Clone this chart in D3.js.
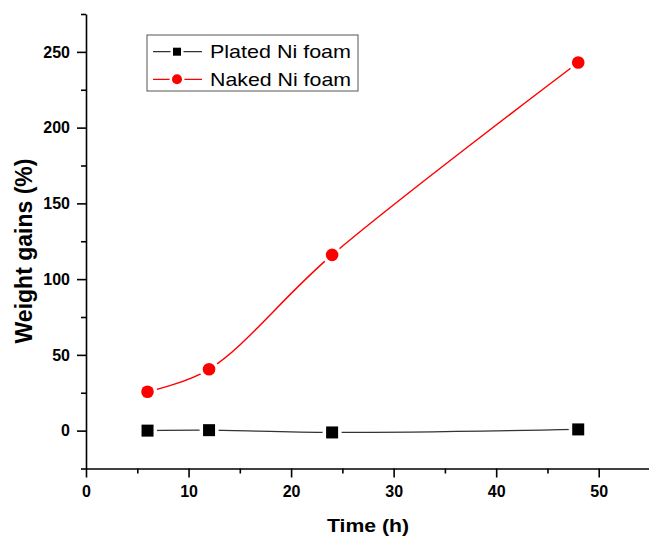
<!DOCTYPE html>
<html>
<head>
<meta charset="utf-8">
<script src="https://cdn.jsdelivr.net/npm/d3@7"></script>
<style>
  body { margin: 0; background: #fff; }
  svg { display: block; font-family: Arial, "Liberation Sans", sans-serif; }
</style>
</head>
<body>
<div id="chart"></div>
<script>
// data
var timeH = [6, 12, 24, 48];
var platedGain = [0, 0.3, -1.2, 0.8];
var nakedGain = [25.7, 40.5, 116, 243];
var seriesNames = ["Plated Ni foam", "Naked Ni foam"];
var xTicks = [0, 10, 20, 30, 40, 50];
var xMinor = [5, 15, 25, 35, 45, 55];
var yTicks = [0, 50, 100, 150, 200, 250];
var yMinor = [-25, 25, 75, 125, 175, 225, 275];

var svgWidth = 649;
var svgHeight = 538;

var svg = d3.select("#chart")
  .append("svg")
  .attr("width", svgWidth)
  .attr("height", svgHeight);

var x = d3.scaleLinear().domain([0, 55]).range([86, 650]);
var y = d3.scaleLinear().domain([-25, 275]).range([468.5, 14]);

// x axis
svg.append("g")
  .attr("transform", "translate(0," + y(-25) + ")")
  .call(d3.axisBottom(x).tickValues(xTicks).tickSize(9).tickSizeOuter(0).tickPadding(8));
svg.append("g")
  .attr("transform", "translate(0," + y(-25) + ")")
  .call(d3.axisBottom(x).tickValues(xMinor).tickSize(5).tickFormat(""))
  .select(".domain").remove();

// y axis
svg.append("g")
  .attr("transform", "translate(" + x(0) + ",0)")
  .call(d3.axisLeft(y).tickValues(yTicks).tickSize(9).tickSizeOuter(0).tickPadding(7));
svg.append("g")
  .attr("transform", "translate(" + x(0) + ",0)")
  .call(d3.axisLeft(y).tickValues(yMinor).tickSize(5).tickFormat(""))
  .select(".domain").remove();

svg.selectAll(".domain, .tick line")
  .attr("stroke", "#000")
  .attr("stroke-width", 1.6);
svg.selectAll(".tick text")
  .attr("fill", "#000")
  .style("font-size", "16px")
  .style("font-weight", "bold");

// axis titles
svg.append("text")
  .attr("x", (x(0) + x(55)) / 2)
  .attr("y", 532)
  .attr("text-anchor", "middle")
  .attr("textLength", 82)
  .attr("lengthAdjust", "spacingAndGlyphs")
  .style("font-size", "19px")
  .style("font-weight", "bold")
  .text("Time (h)");

svg.append("text")
  .attr("transform", "translate(32,251) rotate(-90)")
  .attr("text-anchor", "middle")
  .style("font-size", "23px")
  .style("font-weight", "bold")
  .text("Weight gains (%)");

// series
var plated = timeH.map(function(t, i) { return [t, platedGain[i]]; });
var naked = timeH.map(function(t, i) { return [t, nakedGain[i]]; });

var line = d3.line()
  .x(function(d) { return x(d[0]); })
  .y(function(d) { return y(d[1]); })
  .curve(d3.curveCatmullRom.alpha(0.5));

svg.append("path")
  .datum(plated)
  .attr("fill", "none")
  .attr("stroke", "#333")
  .attr("stroke-width", 1.3)
  .attr("d", line);

svg.append("path")
  .datum(naked)
  .attr("fill", "none")
  .attr("stroke", "#ff0000")
  .attr("stroke-width", 1.5)
  .attr("d", line);

// markers with a white halo so the lines stop short of them
svg.selectAll(".sq")
  .data(plated)
  .enter()
  .append("rect")
  .attr("x", function(d) { return x(d[0]) - 6; })
  .attr("y", function(d) { return y(d[1]) - 6; })
  .attr("width", 12)
  .attr("height", 12)
  .attr("fill", "#000")
  .attr("stroke", "#fff")
  .attr("stroke-width", 7)
  .attr("paint-order", "stroke");

svg.selectAll(".dot")
  .data(naked)
  .enter()
  .append("circle")
  .attr("cx", function(d) { return x(d[0]); })
  .attr("cy", function(d) { return y(d[1]); })
  .attr("r", 6.3)
  .attr("fill", "#ff0000")
  .attr("stroke", "#fff")
  .attr("stroke-width", 7)
  .attr("paint-order", "stroke");

// legend
var legend = svg.append("g");
legend.append("rect")
  .attr("x", 147)
  .attr("y", 35)
  .attr("width", 211)
  .attr("height", 56)
  .attr("fill", "#fff")
  .attr("stroke", "#555")
  .attr("stroke-width", 1);

var rows = [
  { name: seriesNames[0], color: "#333", fill: "#000", shape: "square", cy: 51.7 },
  { name: seriesNames[1], color: "#ff0000", fill: "#ff0000", shape: "circle", cy: 79.3 }
];

rows.forEach(function(r) {
  legend.append("line")
    .attr("x1", 153).attr("x2", 202)
    .attr("y1", r.cy).attr("y2", r.cy)
    .attr("stroke", r.color)
    .attr("stroke-width", 1.3);
  if (r.shape === "square") {
    legend.append("rect")
      .attr("x", 173).attr("y", r.cy - 4)
      .attr("width", 8).attr("height", 8)
      .attr("fill", r.fill)
      .attr("stroke", "#fff").attr("stroke-width", 5)
      .attr("paint-order", "stroke");
  } else {
    legend.append("circle")
      .attr("cx", 177).attr("cy", r.cy)
      .attr("r", 5)
      .attr("fill", r.fill)
      .attr("stroke", "#fff").attr("stroke-width", 5)
      .attr("paint-order", "stroke");
  }
  legend.append("text")
    .attr("x", 210)
    .attr("y", r.cy + 6.6)
    .attr("textLength", 141)
    .attr("lengthAdjust", "spacingAndGlyphs")
    .style("font-size", "19px")
    .attr("fill", "#000")
    .text(r.name);
});
</script>
</body>
</html>
